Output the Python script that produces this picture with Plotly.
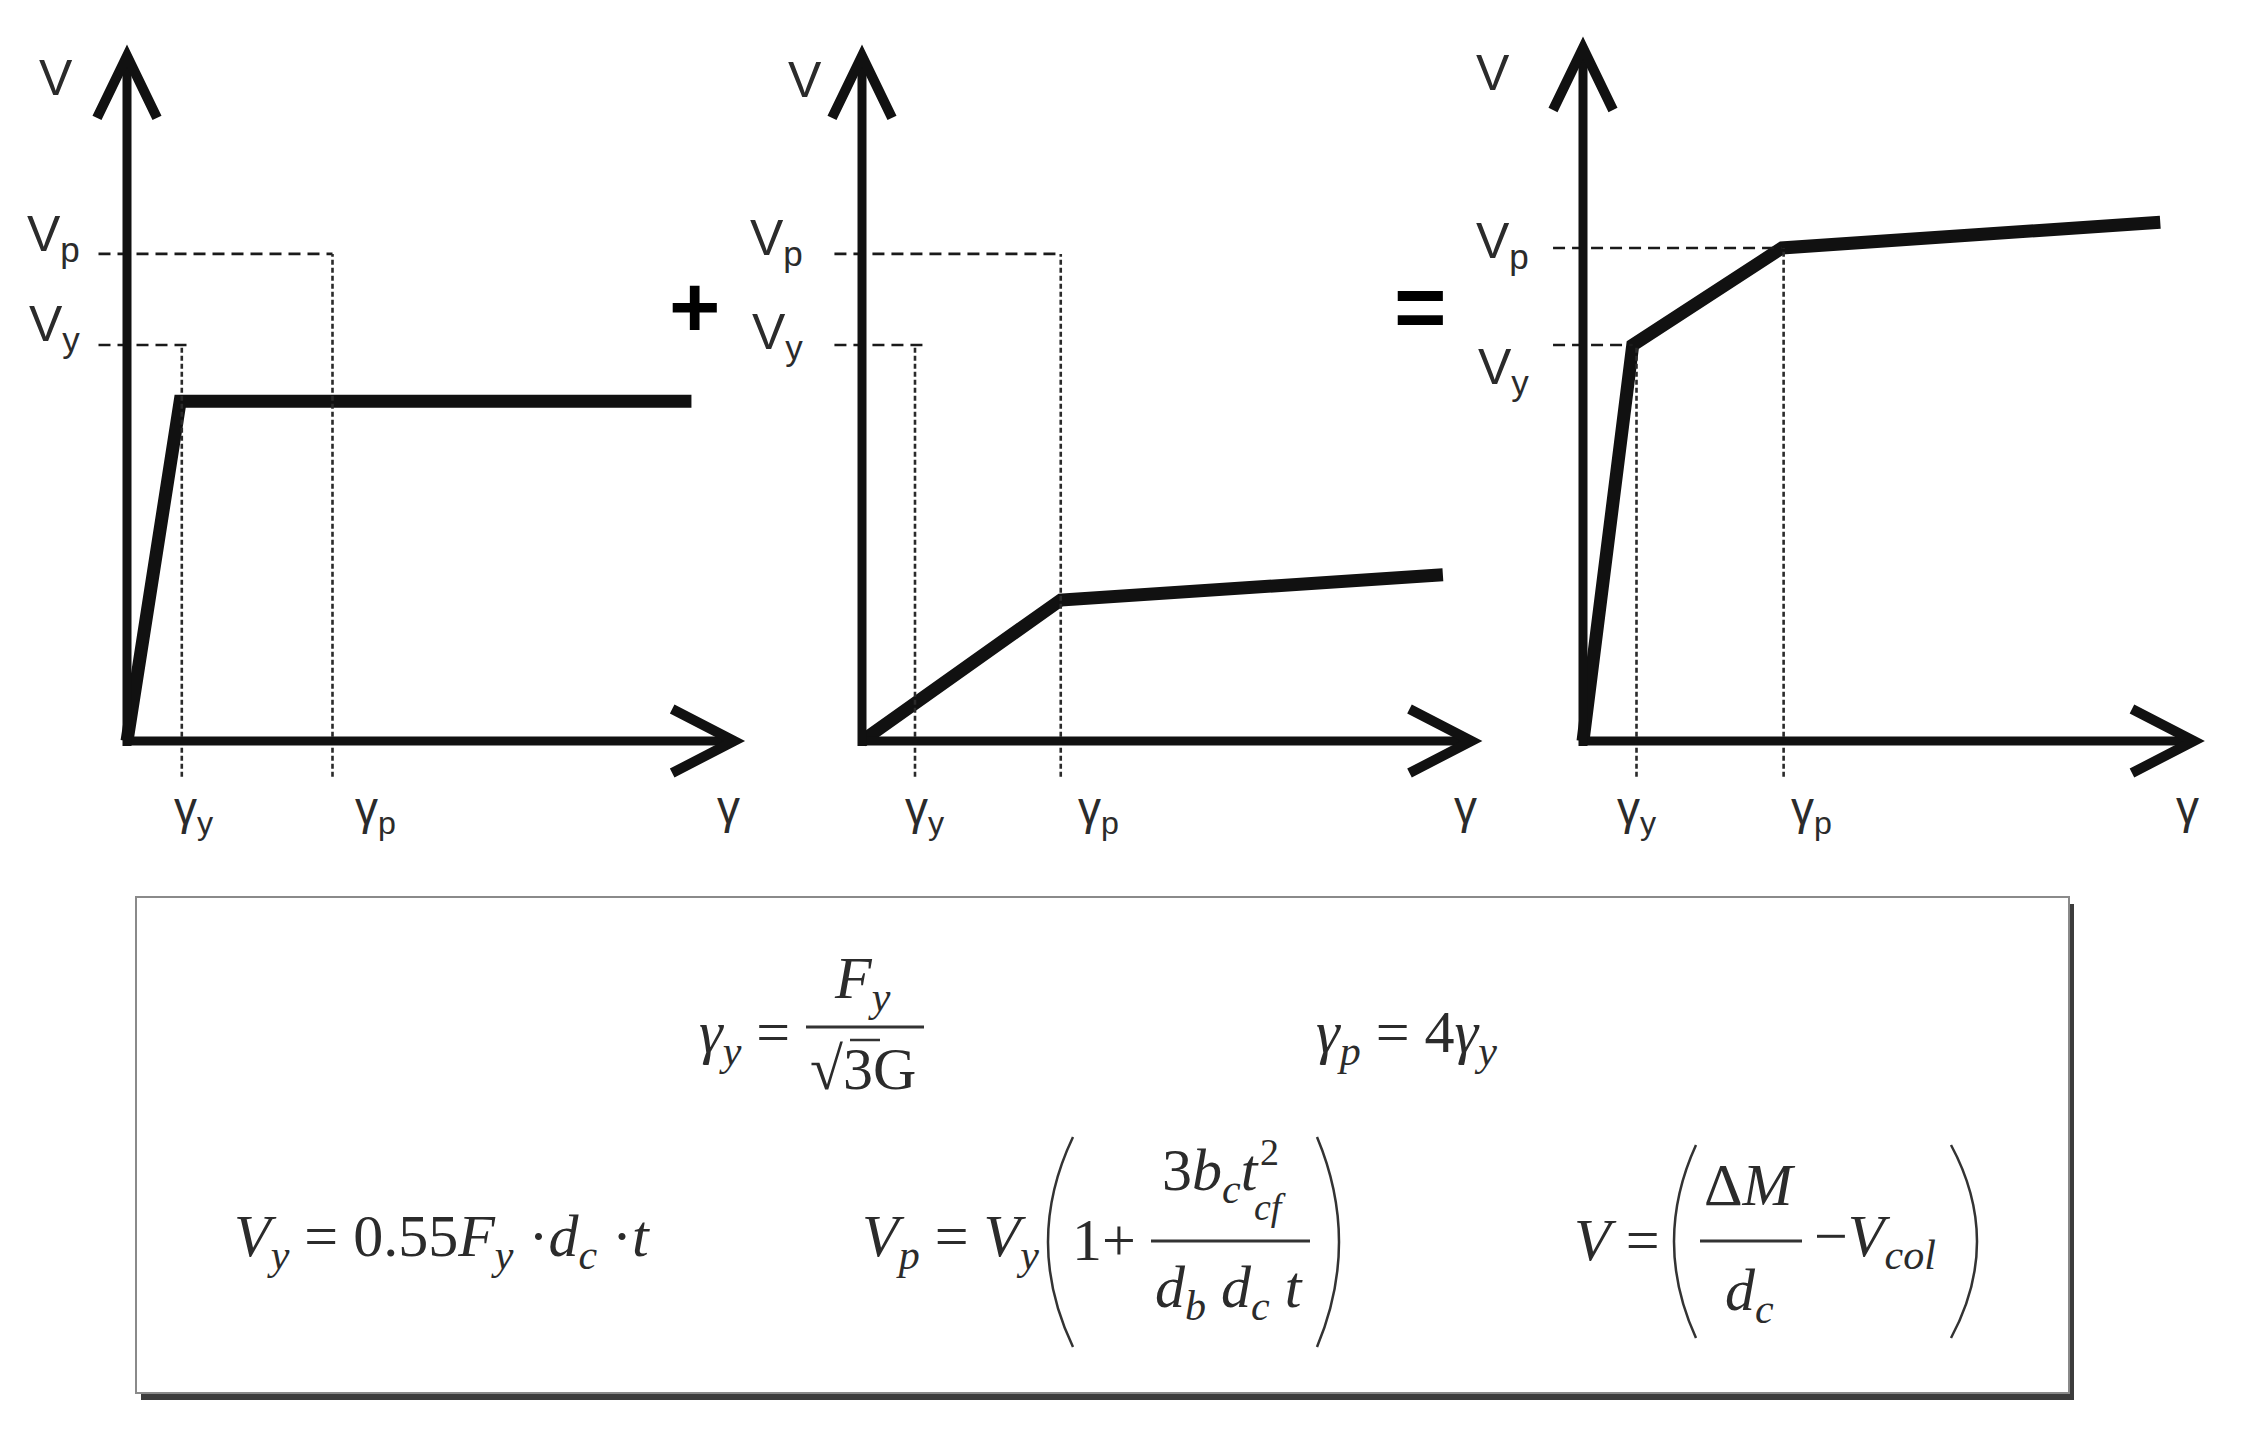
import plotly.graph_objects as go

W, H = 2247, 1446
OFF = 8                      # browser body margin
FW, FH = W - 2 * OFF, H - 2 * OFF

# ---------------- data (γ in units of γ_y, V in units of V_y)
gamma_levels = [1.0, 3.75]           # γ_y, γ_p
V_levels = [1.0, 1.23]               # V_y, V_p
gamma_tick_text = ["γ<sub>y</sub>", "γ<sub>p</sub>"]
V_tick_text = ["V<sub>y</sub>", "V<sub>p</sub>"]

panel1_gamma = [0, 0.97, 10.3]
panel1_V = [0, 0.858, 0.858]
panel2_gamma = [0, 3.75, 10.96]
panel2_V = [0, 0.356, 0.42]
panel3_gamma = [0, 0.93, 3.72, 10.79]
panel3_V = [0, 1.0, 1.245, 1.31]

axis_gamma_max = [11.08, 11.5, 11.42]
axis_V_max = [1.73, 1.73, 1.75]

# ---------------- layout geometry (pixels of the page)
origin_x = [127, 862, 1583]
px_per_gamma = [54.8, 53.0, 53.5]
origin_y = 741
px_per_V = 396
dom_x = [(12, 770), (772, 1500), (1488, 2235)]
dom_y = (15, 860)

INK = "#111111"
TXT = "#2b2b2b"
SANS = "Liberation Sans, Arial, sans-serif"
SERIF = "Liberation Serif, Times New Roman, serif"


def X(px):
    return (px - OFF) / FW


def Y(py):
    return 1 - (py - OFF) / FH


fig = go.Figure()
shapes = []
annotations = []

curves = [(panel1_gamma, panel1_V), (panel2_gamma, panel2_V), (panel3_gamma, panel3_V)]

topV_off = [(-52, -22), (-38, -24), (-71, -25)]
Vp_off = [(-45, 16), (-57, 12), (-52, 9)]
Vy_off = [(-45, 18), (-57, 10), (-52, -25)]
gy_xoff = [12, 10, 0]
gp_xoff = [43, 38, 28]

for i in range(3):
    ox, sx = origin_x[i], px_per_gamma[i]
    a, b = dom_x[i]
    top, bot = dom_y
    xr = [(a - ox) / sx, (b - ox) / sx]
    yr = [(origin_y - bot) / px_per_V, (origin_y - top) / px_per_V]
    ax_suffix = "" if i == 0 else str(i + 1)
    fig.update_layout(**{
        f"xaxis{ax_suffix}": dict(domain=[X(a), X(b)], range=xr, visible=False, fixedrange=True),
        f"yaxis{ax_suffix}": dict(domain=[Y(bot), Y(top)], range=yr, visible=False, fixedrange=True),
    })
    xref = f"x{ax_suffix}"
    yref = f"y{ax_suffix}"
    gx, gv = curves[i]

    gy, gp = gamma_levels
    vy, vp = V_levels
    gxmax = axis_gamma_max[i]
    vmax = axis_V_max[i]
    dxp = 1 / sx
    dyp = 1 / px_per_V

    # dashed guide lines
    hd = dict(color="#1a1a1a", width=2.6, dash="12px,7px")
    vd = dict(color="#2a2a2a", width=2.6, dash="5px,3px")
    x_left = -0.52 if i < 2 else -0.56
    vy_end = gy * 1.13 if i == 0 else (gy * 1.19 if i == 1 else gx[1])
    vp_lvl = vp if i < 2 else gv[2]
    shapes.append(dict(type="line", xref=xref, yref=yref, x0=x_left, x1=gp if i < 2 else gx[2],
                       y0=vp_lvl, y1=vp_lvl, line=hd))
    shapes.append(dict(type="line", xref=xref, yref=yref, x0=x_left, x1=vy_end, y0=vy, y1=vy, line=hd))
    shapes.append(dict(type="line", xref=xref, yref=yref, x0=gy, x1=gy, y0=-0.09, y1=vy, line=vd))
    shapes.append(dict(type="line", xref=xref, yref=yref, x0=gp, x1=gp, y0=-0.09, y1=vp_lvl, line=vd))

    # axes with open chevron heads
    axl = dict(color=INK, width=9)
    shapes.append(dict(type="line", xref=xref, yref=yref, x0=0, x1=gxmax, y0=0, y1=0, line=axl))
    shapes.append(dict(type="line", xref=xref, yref=yref, x0=0, x1=0, y0=-5 * dyp, y1=vmax, line=axl))
    shapes.append(dict(type="path", xref=xref, yref=yref, line=dict(color=INK, width=10),
                       path=f"M {gxmax - 62 * dxp},{32 * dyp} L {gxmax},0 L {gxmax - 62 * dxp},{-32 * dyp}"))
    shapes.append(dict(type="path", xref=xref, yref=yref, line=dict(color=INK, width=10),
                       path=f"M {-30 * dxp},{vmax - 62 * dyp} L 0,{vmax} L {30 * dxp},{vmax - 62 * dyp}"))

    # the V–γ curve
    fig.add_trace(go.Scatter(x=gx, y=gv, mode="lines", xaxis=xref, yaxis=yref,
                             line=dict(color=INK, width=13), hoverinfo="skip", showlegend=False))

    # axis labels
    lab_font = dict(family=SANS, size=50, color=TXT)
    annotations.append(dict(xref=xref, yref=yref, x=0, y=vmax, text="V", showarrow=False,
                            xanchor="right", yanchor="middle", xshift=topV_off[i][0], yshift=topV_off[i][1], font=lab_font))
    annotations.append(dict(xref=xref, yref=yref, x=0, y=vp, text=V_tick_text[1], showarrow=False,
                            xanchor="right", yanchor="middle", xshift=Vp_off[i][0], yshift=Vp_off[i][1], font=lab_font))
    annotations.append(dict(xref=xref, yref=yref, x=0, y=vy, text=V_tick_text[0], showarrow=False,
                            xanchor="right", yanchor="middle", xshift=Vy_off[i][0], yshift=Vy_off[i][1], font=lab_font))
    g_font = dict(family=SANS, size=46, color=TXT)
    annotations.append(dict(xref=xref, yref=yref, x=gy, y=0, text=gamma_tick_text[0], showarrow=False,
                            xanchor="center", yanchor="middle", xshift=gy_xoff[i], yshift=-70, font=g_font))
    annotations.append(dict(xref=xref, yref=yref, x=gp, y=0, text=gamma_tick_text[1], showarrow=False,
                            xanchor="center", yanchor="middle", xshift=gp_xoff[i], yshift=-70, font=g_font))
    annotations.append(dict(xref=xref, yref=yref, x=gxmax, y=0, text="γ", showarrow=False,
                            xanchor="center", yanchor="middle", xshift=-6, yshift=-66, font=g_font))


# operators between panels
annotations.append(dict(xref="paper", yref="paper", x=X(694), y=Y(306), text="<b>+</b>", showarrow=False,
                        xanchor="center", yanchor="middle", font=dict(family=SANS, size=88, color="#000")))
annotations.append(dict(xref="paper", yref="paper", x=X(1420), y=Y(307), text="<b>=</b>", showarrow=False,
                        xanchor="center", yanchor="middle", font=dict(family=SANS, size=90, color="#000")))

# formula box with shadow
shapes.append(dict(type="rect", xref="paper", yref="paper", x0=X(141), x1=X(2074), y0=Y(904), y1=Y(1400),
                   fillcolor="#3c3c3c", line=dict(width=0), layer="above"))
shapes.append(dict(type="rect", xref="paper", yref="paper", x0=X(136), x1=X(2069), y0=Y(897), y1=Y(1393),
                   fillcolor="white", line=dict(color="#8a8a8a", width=2), layer="above"))

F = dict(family=SERIF, size=60, color=TXT)
Fs = dict(family=SERIF, size=38, color=TXT)


def txt(x, y, s, xa="left", ya="middle", font=F):
    annotations.append(dict(xref="paper", yref="paper", x=X(x), y=Y(y), text=s, showarrow=False,
                            xanchor=xa, yanchor=ya, font=font))


def hbar(x0, x1, y):
    shapes.append(dict(type="line", xref="paper", yref="paper", x0=X(x0), x1=X(x1), y0=Y(y), y1=Y(y),
                       line=dict(color="#333", width=3)))


def paren(xl, xr, yt, yb, left=True):
    ym = (yt + yb) / 2
    if left:
        cx = 2 * xl - xr
        p = f"M {X(xr)},{Y(yt)} Q {X(cx)},{Y(ym)} {X(xr)},{Y(yb)}"
    else:
        cx = 2 * xr - xl
        p = f"M {X(xl)},{Y(yt)} Q {X(cx)},{Y(ym)} {X(xl)},{Y(yb)}"
    shapes.append(dict(type="path", xref="paper", yref="paper", path=p, line=dict(color="#333", width=2.5)))


# row 1
txt(792, 1036, "<i>γ</i><sub><i>y</i></sub> =", xa="right")
txt(862, 1022, "<i>F</i><sub><i>y</i></sub>", xa="center", ya="bottom")
hbar(806, 924, 1027)
txt(863, 1034, "√3G", xa="center", ya="top")
shapes.append(dict(type="line", xref="paper", yref="paper", x0=X(850), x1=X(880), y0=Y(1040), y1=Y(1040),
                   line=dict(color="#333", width=2.5)))
txt(1314, 1036, "<i>γ</i><sub><i>p</i></sub> = 4<i>γ</i><sub><i>y</i></sub>")

# row 2
txt(232, 1240, "<i>V</i><sub><i>y</i></sub> = 0.55<i>F</i><sub><i>y</i></sub> ·<i>d</i><sub><i>c</i></sub> ·<i>t</i>")
txt(860, 1240, "<i>V</i><sub><i>p</i></sub> = <i>V</i><sub><i>y</i></sub>")
paren(1048, 1073, 1137, 1347, left=True)
txt(1070, 1240, "1+")
txt(1160, 1214, "3<i>b</i><sub><i>c</i></sub><i>t</i>", ya="bottom")
txt(1258, 1152, "2", font=Fs)
txt(1252, 1207, "<i>cf</i>", font=Fs)
hbar(1151, 1310, 1241)
txt(1229, 1252, "<i>d</i><sub><i>b</i></sub> <i>d</i><sub><i>c</i></sub> <i>t</i>", xa="center", ya="top")
paren(1317, 1339, 1137, 1347, left=False)

txt(1572, 1240, "<i>V</i> =")
paren(1674, 1696, 1145, 1338, left=True)
txt(1750, 1220, "Δ<i>M</i>", xa="center", ya="bottom")
hbar(1700, 1802, 1241)
txt(1749, 1255, "<i>d</i><sub><i>c</i></sub>", xa="center", ya="top")
txt(1812, 1240, "−<i>V</i><sub><i>col</i></sub>")
paren(1951, 1977, 1145, 1338, left=False)

fig.update_layout(
    width=FW, height=FH,
    margin=dict(l=0, r=0, t=0, b=0),
    paper_bgcolor="white", plot_bgcolor="rgba(0,0,0,0)",
    showlegend=False,
    shapes=shapes,
    annotations=annotations,
)

fig.write_html("out.html")
